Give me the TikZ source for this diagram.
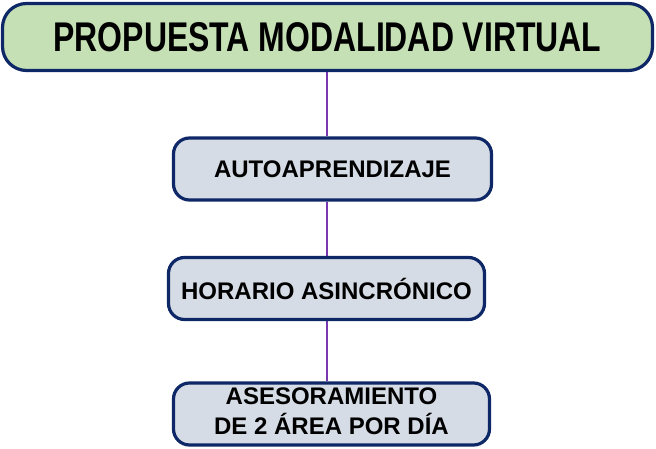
\documentclass[tikz,border=0pt]{standalone}
\usepackage{fontspec}
\setmainfont{Liberation Sans}
\newfontfamily\narrowfont[FakeStretch=0.77]{Liberation Sans}
\usetikzlibrary{backgrounds}

\definecolor{boxline}{HTML}{0E2766}
\definecolor{titlefill}{HTML}{C5E0B4}
\definecolor{itemfill}{HTML}{D6DCE5}
\definecolor{linkcol}{HTML}{7A38B0}

\begin{document}
\begin{tikzpicture}[x=1pt,y=-1pt]

\tikzset{titlebox/.style={rectangle, draw=boxline, line width=3.2pt, fill=titlefill, text centered, rounded corners=24pt, inner sep=0pt}}
\tikzset{itembox/.style={rectangle, draw=boxline, line width=3.2pt, fill=itemfill, text centered, rounded corners=16pt, inner sep=0pt, minimum height=62pt}}
\tikzset{link/.style={draw=linkcol, line width=2.6pt}}

\useasboundingbox (0,0) rectangle (656,449);

\node [titlebox, minimum width=650pt, minimum height=67pt] (title) at (327.5,37) {\narrowfont\fontsize{41.5}{44}\selectfont\bfseries PROPUESTA MODALIDAD VIRTUAL};

\node [itembox, minimum width=318pt] (auto) at (332.5,169) {\fontsize{24}{26}\selectfont\bfseries AUTOAPRENDIZAJE};
\node [itembox, minimum width=316pt] (horario) at (326.5,288.5) {\fontsize{24}{26}\selectfont\bfseries HORARIO ASINCRÓNICO};
\node [itembox, minimum width=316pt] (ases) at (331.5,414) {\fontsize{24}{27.5}\selectfont\bfseries \begin{tabular}{@{}c@{}}ASESORAMIENTO\\ DE 2 ÁREA POR DÍA\end{tabular}};

% connectors
\begin{pgfonlayer}{background}
\draw [link] (title.south -| 327,0) -- (auto.north -| 327,0);
\draw [link] (auto.south -| 327,0) -- (horario.north -| 327,0);
\draw [link] (horario.south -| 327,0) -- (ases.north -| 327,0);
\end{pgfonlayer}

\end{tikzpicture}
\end{document}
